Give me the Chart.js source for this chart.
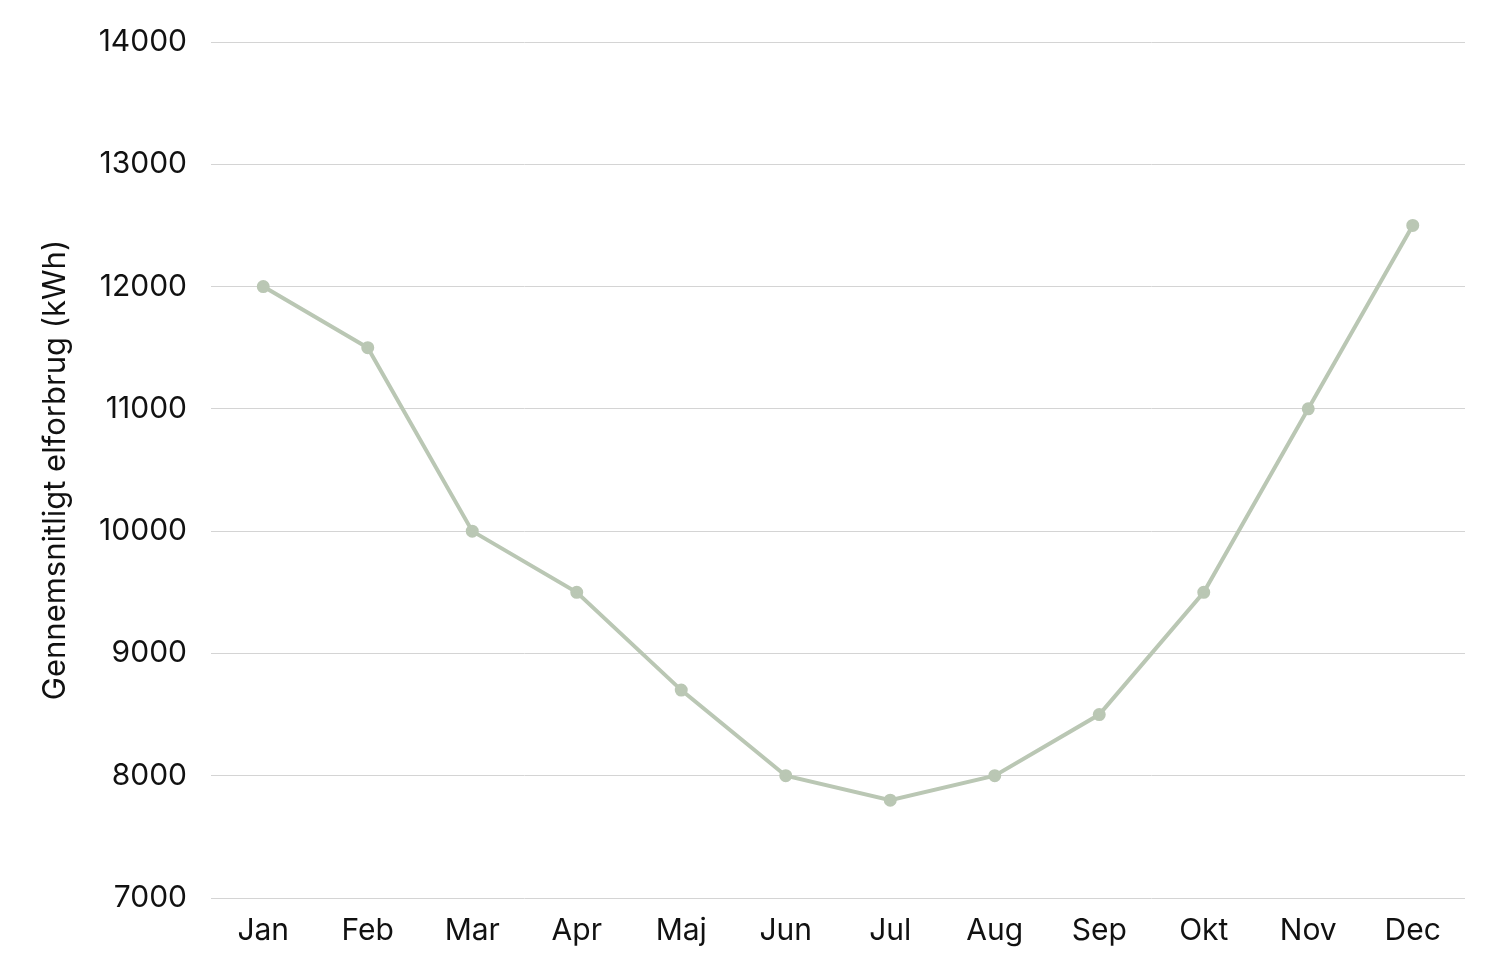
<!DOCTYPE html>
<html>
<head>
<meta charset="utf-8">
<script src="https://cdn.jsdelivr.net/npm/chart.js@4"></script>
<style>
html,body{margin:0;padding:0;background:#fff;}
#wrap{width:1489px;height:957px;}
</style>
</head>
<body>
<div id="wrap"><canvas id="c" width="1489" height="957"></canvas></div>
<script>
const months = ["Jan","Feb","Mar","Apr","Maj","Jun","Jul","Aug","Sep","Okt","Nov","Dec"];
const consumption = [12000,11500,10000,9500,8700,8000,7800,8000,8500,9500,11000,12500];
const yTicks = [7000,8000,9000,10000,11000,12000,13000,14000];
const yTitle = "Gennemsnitligt elforbrug (kWh)";

const FONT = "Inter, 'Liberation Sans', sans-serif";
new Chart(document.getElementById('c'), {
  type: 'line',
  data: {
    labels: months,
    datasets: [{
      data: consumption,
      borderColor: '#bac7b4',
      backgroundColor: '#bac7b4',
      borderWidth: 4,
      pointRadius: 4.5,
      pointHoverRadius: 4.5,
      tension: 0,
      fill: false
    }]
  },
  options: {
    responsive: false,
    animation: false,
    devicePixelRatio: 1,
    layout: { padding: { top: 42, right: 24, bottom: 0, left: 0 } },
    plugins: { legend: { display: false }, tooltip: { enabled: false } },
    scales: {
      x: {
        offset: true,
        grid: { display: false, drawTicks: false },
        border: { display: false },
        ticks: { color: '#111', font: { family: FONT, size: 30 }, padding: 15, maxRotation: 0 },
        afterFit: (s) => { s.height = 59; }
      },
      y: {
        min: 7000, max: 14000,
        afterBuildTicks: (s) => { s.ticks = yTicks.map(v => ({ value: v })); },
        grid: { color: '#d4d4d4', lineWidth: 1, drawTicks: false },
        border: { display: false },
        ticks: { color: '#111', font: { family: FONT, size: 30 }, padding: 24, callback: (v) => String(v) },
        title: { display: true, text: yTitle, color: '#111', font: { family: FONT, size: 31 }, padding: { top: 37, bottom: 0 } },
        afterFit: (s) => { s.width = 211; }
      }
    }
  }
});
</script>
</body>
</html>
